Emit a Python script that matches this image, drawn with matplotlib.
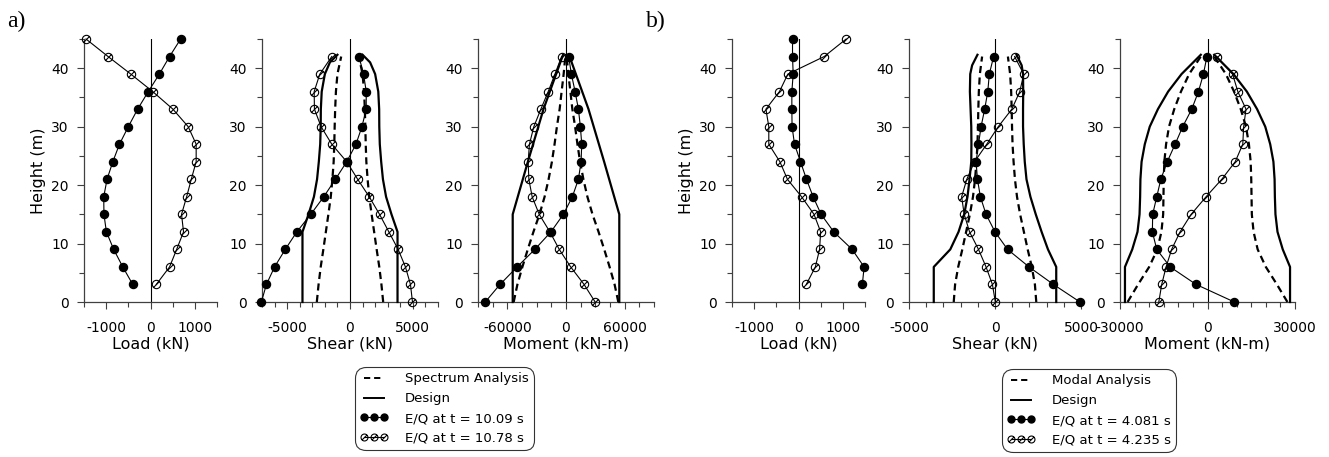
import numpy as np
import matplotlib
matplotlib.use("Agg")
import matplotlib.pyplot as plt
from matplotlib.path import Path
from matplotlib.lines import Line2D
from matplotlib.ticker import MultipleLocator

# heights (m)
h_load = [3, 6, 9, 12, 15, 18, 21, 24, 27, 30, 33, 36, 39, 42, 45]
h_sm = [0, 3, 6, 9, 12, 15, 18, 21, 24, 27, 30, 33, 36, 39, 42]

# ---- a) ----
load_a_t1 = [-400, -625, -830, -995, -1050, -1055, -980, -850, -700, -500, -290, -50, 200, 430, 680]
load_a_t2 = [130, 430, 590, 745, 700, 815, 920, 1030, 1030, 850, 505, 50, -445, -957, -1455]

shear_a_t1 = [-7050, -6650, -6000, -5150, -4230, -3120, -2090, -1160, -260, 475, 950, 1290, 1290, 1080, 710]
shear_a_t2 = [4970, 4810, 4410, 3830, 3090, 2350, 1530, 610, -260, -1450, -2300, -2830, -2850, -2400, -1450]
shear_a_spec = [2640, 2500, 2330, 2120, 1920, 1720, 1530, 1400, 1300, 1250, 1220, 1180, 1120, 1000, 700]
h_shear_a_design = [0, 12, 15, 18, 21, 24, 27, 30, 33, 36, 39, 41, 42.3]
shear_a_design = [3780, 3780, 3300, 2870, 2620, 2480, 2370, 2330, 2320, 2250, 2000, 1600, 1000]

moment_a_t1 = [-82600, -67500, -50000, -31900, -15400, -2700, 6500, 12700, 15400, 16100, 14700, 12700, 9300, 5500, 2700]
moment_a_t2 = [29800, 18500, 4800, -6900, -16500, -27400, -34600, -38000, -38700, -37400, -32900, -25700, -18200, -11300, -4500]
moment_a_spec = [53500, 49700, 44600, 39100, 33300, 27100, 21900, 17800, 14400, 11700, 9300, 6500, 4500, 2400, 700]
h_moment_a_design = [0, 15, 24, 33, 42.3]
moment_a_design = [54500, 54500, 39000, 23000, 3000]

# ---- b) ----
load_b_t1 = [1440, 1480, 1210, 795, 510, 330, 180, 45, -90, -145, -150, -150, -120, -135, -135]
load_b_t2 = [175, 380, 475, 500, 350, 70, -250, -420, -670, -670, -735, -430, -240, 580, 1075]

shear_b_t1 = [4940, 3400, 1980, 730, 0, -520, -850, -1020, -1100, -960, -810, -600, -420, -330, -80]
shear_b_t2 = [20, -150, -520, -960, -1480, -1790, -1940, -1640, -1190, -480, 190, 980, 1440, 1670, 1140]
shear_b_modal = [2400, 2320, 2140, 1900, 1680, 1460, 1280, 1160, 1080, 1020, 990, 970, 940, 880, 750]
h_shear_b_design = [0, 6, 9, 12, 15, 18, 21, 24, 27, 30, 33, 36, 39, 40.5, 42.3]
shear_b_design_pos = [3560, 3560, 3080, 2710, 2370, 2060, 1830, 1730, 1670, 1630, 1630, 1640, 1630, 1550, 1250]
shear_b_design_neg = [-3560, -3560, -2600, -2120, -1790, -1600, -1480, -1380, -1370, -1380, -1420, -1460, -1440, -1330, -1020]

moment_b_t1 = [9200, -3900, -12800, -17400, -18900, -18800, -17400, -16000, -13800, -11100, -8500, -5400, -3100, -1400, -200]
moment_b_t2 = [-16700, -15700, -14200, -12300, -9400, -5600, -500, 4900, 9500, 12100, 12400, 13200, 10400, 8600, 3200]
moment_b_modal = [27400, 23800, 20000, 17200, 15800, 15200, 15100, 15000, 14800, 14200, 13200, 11400, 9100, 6300, 2300]
h_moment_b_design = [0, 6, 9, 12, 15, 18, 21, 24, 27, 30, 33, 36, 39, 42.3]
moment_b_design = [28300, 28300, 25800, 24000, 23300, 23100, 23000, 22600, 21500, 19800, 17000, 13500, 8900, 2300]

W, H = 1329, 457
fig = plt.figure(figsize=(W / 100, H / 100), dpi=100)

# open circle with a slash, as in the original
circ = Path.unit_circle()
slash = Path([(-0.72, -0.72), (0.72, 0.72)], [Path.MOVETO, Path.LINETO])
open_marker = Path.make_compound_path(circ, slash)

filled_kw = dict(color='black', lw=0.8, marker='o', ms=5.8, mfc='black', mec='black', clip_on=False, zorder=4)
open_kw = dict(color='black', lw=0.8, marker=open_marker, ms=6.0, mfc='none', mec='black', mew=0.8, clip_on=False, zorder=4)
design_kw = dict(color='black', lw=1.6, clip_on=False, zorder=3)
dash_kw = dict(color='black', lw=1.6, ls=(0, (3.2, 2.0)), clip_on=False, zorder=3)


def make_ax(x0, x1, xlim, major, minor, xlabel, ylabel=None):
    top, bot = 39, 302
    ax = fig.add_axes([x0 / W, 1 - bot / H, (x1 - x0) / W, (bot - top) / H])
    ax.set_xlim(*xlim)
    ax.set_ylim(0, 45)
    for s in ['top', 'right']:
        ax.spines[s].set_visible(False)
    for s in ['left', 'bottom']:
        ax.spines[s].set_color('0.25')
        ax.spines[s].set_linewidth(0.9)
    ax.xaxis.set_major_locator(MultipleLocator(major))
    ax.xaxis.set_minor_locator(MultipleLocator(minor))
    ax.yaxis.set_major_locator(MultipleLocator(10))
    ax.yaxis.set_minor_locator(MultipleLocator(5))
    ax.tick_params(which='both', direction='out', color='0.25', width=0.8, labelsize=10)
    ax.tick_params(which='major', length=5)
    ax.tick_params(which='minor', length=3.5)
    ax.tick_params(axis='x', which='major', pad=9)
    ax.tick_params(axis='y', which='major', pad=6)
    ax.set_xticks([t for t in ax.get_xticks() if xlim[0] < t < xlim[1]])
    ax.set_xticklabels([f"{int(t)}" for t in ax.get_xticks()])
    ax.xaxis.set_minor_locator(MultipleLocator(minor))
    ax.set_xlim(*xlim)
    ax.set_xlabel(xlabel, fontsize=11.5, labelpad=1)
    if ylabel:
        ax.set_ylabel(ylabel, fontsize=11.5, labelpad=4)
    ax.plot([0, 0], [0, 45], color='black', lw=0.8, zorder=2)
    return ax


# ---- a) panels ----
ax = make_ax(84, 217, (-1500, 1500), 1000, 500, 'Load (kN)', 'Height (m)')
ax.plot(load_a_t1, h_load, **filled_kw)
ax.plot(load_a_t2, h_load, **open_kw)

ax = make_ax(262, 438, (-7000, 7000), 5000, 1000, 'Shear (kN)')
ax.plot(shear_a_spec, h_sm, **dash_kw)
ax.plot(-np.array(shear_a_spec), h_sm, **dash_kw)
ax.plot(shear_a_design, h_shear_a_design, **design_kw)
ax.plot(-np.array(shear_a_design), h_shear_a_design, **design_kw)
ax.plot(shear_a_t1, h_sm, **filled_kw)
ax.plot(shear_a_t2, h_sm, **open_kw)

ax = make_ax(478, 654, (-90000, 90000), 60000, 15000, 'Moment (kN-m)')
ax.plot(moment_a_spec, h_sm, **dash_kw)
ax.plot(-np.array(moment_a_spec), h_sm, **dash_kw)
ax.plot(moment_a_design, h_moment_a_design, **design_kw)
ax.plot(-np.array(moment_a_design), h_moment_a_design, **design_kw)
ax.plot(moment_a_t1, h_sm, **filled_kw)
ax.plot(moment_a_t2, h_sm, **open_kw)

# ---- b) panels ----
ax = make_ax(732, 865, (-1500, 1500), 1000, 500, 'Load (kN)', 'Height (m)')
ax.plot(load_b_t1, h_load, **filled_kw)
ax.plot(load_b_t2, h_load, **open_kw)

ax = make_ax(909, 1081, (-5000, 5000), 5000, 1000, 'Shear (kN)')
ax.set_xticks([-5000, 0, 5000])
ax.set_xticklabels(['-5000', '0', '5000'])
ax.plot(shear_b_modal, h_sm, **dash_kw)
ax.plot(-np.array(shear_b_modal), h_sm, **dash_kw)
ax.plot(shear_b_design_pos, h_shear_b_design, **design_kw)
ax.plot(shear_b_design_neg, h_shear_b_design, **design_kw)
ax.plot(shear_b_t1, h_sm, **filled_kw)
ax.plot(shear_b_t2, h_sm, **open_kw)

ax = make_ax(1120, 1295, (-30000, 30000), 30000, 5000, 'Moment (kN-m)')
ax.set_xticks([-30000, 0, 30000])
ax.set_xticklabels(['-30000', '0', '30000'])
ax.plot(moment_b_modal, h_sm, **dash_kw)
ax.plot(-np.array(moment_b_modal), h_sm, **dash_kw)
ax.plot(moment_b_design, h_moment_b_design, **design_kw)
ax.plot(-np.array(moment_b_design), h_moment_b_design, **design_kw)
ax.plot(moment_b_t1, h_sm, **filled_kw)
ax.plot(moment_b_t2, h_sm, **open_kw)

# panel letters
fig.text(7 / W, 1 - 21 / H, 'a)', fontsize=17, family='Liberation Serif', va='center', ha='left')
fig.text(646 / W, 1 - 21 / H, 'b)', fontsize=17, family='Liberation Serif', va='center', ha='left')


def add_legend(x0, y0, labels):
    handles = [
        Line2D([], [], color='black', lw=1.4, ls=(0, (3.2, 2.0))),
        Line2D([], [], color='black', lw=1.4),
        Line2D([], [], color='black', lw=0.8, marker='o', ms=5, mfc='black'),
        Line2D([], [], color='black', lw=0.8, marker=open_marker, ms=5, mfc='none', mew=0.8),
    ]
    leg = fig.legend(handles, labels, loc='upper left', bbox_to_anchor=(x0 / W, 1 - y0 / H),
                     bbox_transform=fig.transFigure, borderaxespad=0, fontsize=9.5,
                     numpoints=3, handlelength=2.1, handletextpad=1.3, labelspacing=0.52,
                     borderpad=0.4, fancybox=True, frameon=True)
    fr = leg.get_frame()
    fr.set_edgecolor('black')
    fr.set_linewidth(0.8)
    fr.set_boxstyle('round', pad=0.0, rounding_size=0.8)
    return leg


add_legend(355, 367, ['Spectrum Analysis', 'Design', 'E/Q at t = 10.09 s', 'E/Q at t = 10.78 s'])
add_legend(1002, 369, ['Modal Analysis', 'Design', 'E/Q at t = 4.081 s', 'E/Q at t = 4.235 s'])

fig.savefig('out.png', dpi=100)
